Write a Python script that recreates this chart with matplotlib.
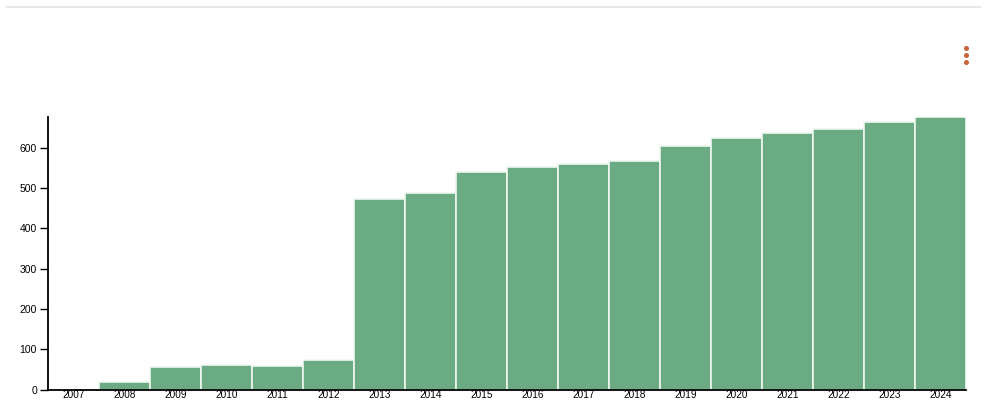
import matplotlib.pyplot as plt
from matplotlib.lines import Line2D

plt.rcParams['font.family'] = ['Liberation Sans', 'DejaVu Sans']

years = ['2007', '2008', '2009', '2010', '2011', '2012', '2013', '2014', '2015',
         '2016', '2017', '2018', '2019', '2020', '2021', '2022', '2023', '2024']
counts = [0, 18, 56, 60, 59, 74, 473, 487, 540,
          553, 559, 566, 605, 623, 636, 646, 665, 675]
yticks = [0, 100, 200, 300, 400, 500, 600]

W, H = 988, 401
fig = plt.figure(figsize=(W / 100, H / 100), dpi=100)
ax = fig.add_axes([48 / W, (H - 389.5) / H, (966 - 48) / W, (389.5 - 117.5) / H])

x = range(len(years))
ax.bar(x, counts, width=1.0, color='#6aab83', edgecolor='#eef7f0', linewidth=1.2)

ax.set_xlim(-0.5, len(years) - 0.5)
ax.set_ylim(0, max(counts))
ax.set_xticks(list(x))
ax.set_xticklabels(years)
ax.set_yticks(yticks)
ax.tick_params(axis='x', length=0, pad=0.5, labelsize=7.2)
ax.tick_params(axis='y', length=6, width=1, pad=2, labelsize=7.5)

for s in ['top', 'right']:
    ax.spines[s].set_visible(False)
ax.spines['left'].set_linewidth(1.3)
ax.spines['bottom'].set_linewidth(1.3)

# thin grey rule along the top of the card
fig.add_artist(Line2D([7 / W, 980 / W], [1 - 7 / H, 1 - 7 / H],
                      transform=fig.transFigure, color='#e8e8e8', linewidth=1.6))
# menu dots at top right
fig.add_artist(Line2D([966 / W] * 3, [1 - 48 / H, 1 - 55 / H, 1 - 62 / H],
                      transform=fig.transFigure, linestyle='none', marker='o',
                      markersize=2.6, color='#c8643c'))

fig.savefig('out.png', dpi=100)
